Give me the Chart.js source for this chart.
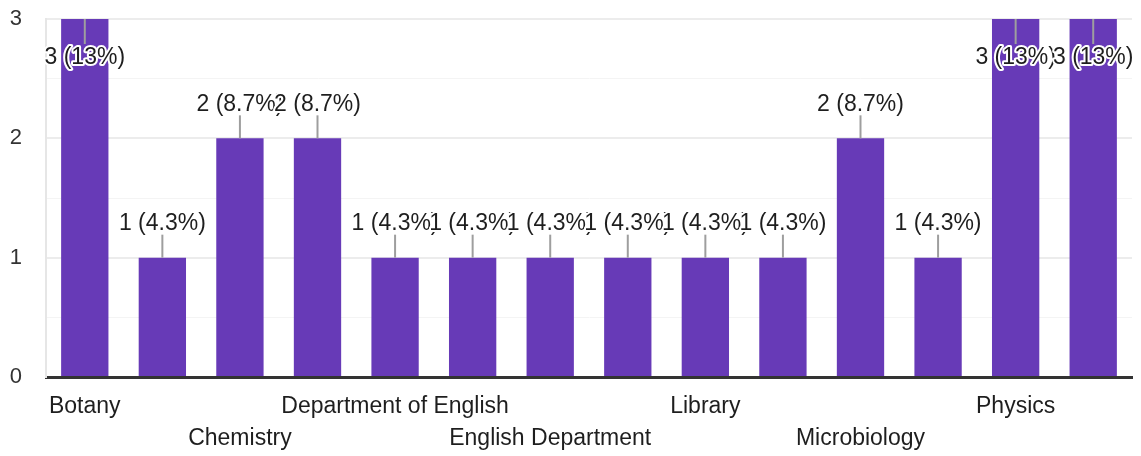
<!DOCTYPE html>
<html>
<head>
<meta charset="utf-8">
<script src="https://cdn.jsdelivr.net/npm/chart.js@4"></script>
<style>
  html, body { margin: 0; padding: 0; background: #fff; }
  #wrap { width: 1141px; height: 456px; }
</style>
</head>
<body>
<div id="wrap"><canvas id="DeptChart"></canvas></div>
<script>
// departments (only every other one is printed on the axis)
const departments = ['Botany', 'Biotechnology', 'Chemistry', 'Commerce', 'Department of English',
  'Economics', 'English Department', 'Geology', 'Library', 'Mathematics', 'Microbiology',
  'Physical Education', 'Physics', 'Zoology'];
const responses = [3, 1, 2, 2, 1, 1, 1, 1, 1, 1, 2, 1, 3, 3];
const yTicks = [0, 1, 2, 3];

const total = responses.reduce((a, b) => a + b, 0);

function pctLabel(v) {
  const p = v / total * 100;
  const s = p >= 10 ? Math.round(p).toString() : p.toFixed(1);
  return v + ' (' + s + '%)';
}

// labels above bars with a little grey leader line
const barLabels = {
  id: 'barLabels',
  afterDatasetsDraw(chart) {
    const c = chart.ctx;
    const meta = chart.getDatasetMeta(0);
    c.save();
    c.font = '23px "Liberation Sans", Arial, sans-serif';
    c.textAlign = 'center';
    c.textBaseline = 'middle';
    meta.data.forEach(function (bar, i) {
      const v = responses[i];
      let ty, l1, l2;
      if (bar.y - 36 - 12 < 0) {
        ty = bar.y + 37; l1 = bar.y; l2 = bar.y + 25;
      } else {
        ty = bar.y - 36; l1 = bar.y; l2 = bar.y - 23;
      }
      c.strokeStyle = '#9e9e9e';
      c.lineWidth = 2;
      c.beginPath();
      c.moveTo(bar.x, l1);
      c.lineTo(bar.x, l2);
      c.stroke();
      const txt = pctLabel(v);
      c.lineWidth = 4;
      c.lineJoin = 'round';
      c.strokeStyle = '#fff';
      c.strokeText(txt, bar.x, ty + 2);
      c.fillStyle = '#1e1e1e';
      c.fillText(txt, bar.x, ty + 2);
    });
    c.restore();
  }
};

const ctx = document.getElementById('DeptChart');

new Chart(ctx, {
  type: 'bar',
  data: {
    labels: departments,
    datasets: [{
      data: responses,
      backgroundColor: '#673ab7',
      barPercentage: 0.61,
      categoryPercentage: 1,
    }]
  },
  options: {
    responsive: true,
    maintainAspectRatio: false,
    animation: false,
    layout: { padding: { top: 0, right: 9, left: 0, bottom: 0 } },
    plugins: {
      legend: { display: false },
      tooltip: { enabled: false },
    },
    scales: {
      x: {
        afterFit(scale) { scale.height = 79; scale.paddingTop = 0; scale.paddingBottom = 0; },
        grid: {
          drawTicks: false,
          color(c) { return c.index === departments.length ? '#e6e6e6' : 'rgba(0,0,0,0)'; },
          lineWidth: 2,
        },
        border: { display: true, color: '#333', width: 3 },
        ticks: {
          autoSkip: false,
          maxRotation: 0,
          padding: 14,
          color: '#1e1e1e',
          font: { family: '"Liberation Sans", Arial, sans-serif', size: 23, lineHeight: 1.37 },
          callback(val, i) {
            const name = departments[i];
            if (i % 4 === 0) return [name, ''];
            if (i % 4 === 2) return ['', name];
            return '';
          }
        }
      },
      y: {
        min: 0,
        max: 3,
        afterFit(scale) { scale.width = 46; scale.paddingTop = 19; scale.paddingBottom = 0; },
        grid: {
          drawTicks: false,
          color(c) { return Number.isInteger(c.tick.value) ? '#ececec' : '#f4f4f4'; },
          lineWidth(c) { return Number.isInteger(c.tick.value) ? 2 : 1; },
        },
        border: { display: true, color: '#e6e6e6', width: 2 },
        ticks: {
          stepSize: 0.5,
          padding: 24,
          color: '#333',
          font: { family: '"Liberation Sans", Arial, sans-serif', size: 22 },
          callback(v) { return yTicks.includes(v) ? v : ''; }
        }
      }
    }
  },
  plugins: [barLabels]
});
</script>
</body>
</html>
